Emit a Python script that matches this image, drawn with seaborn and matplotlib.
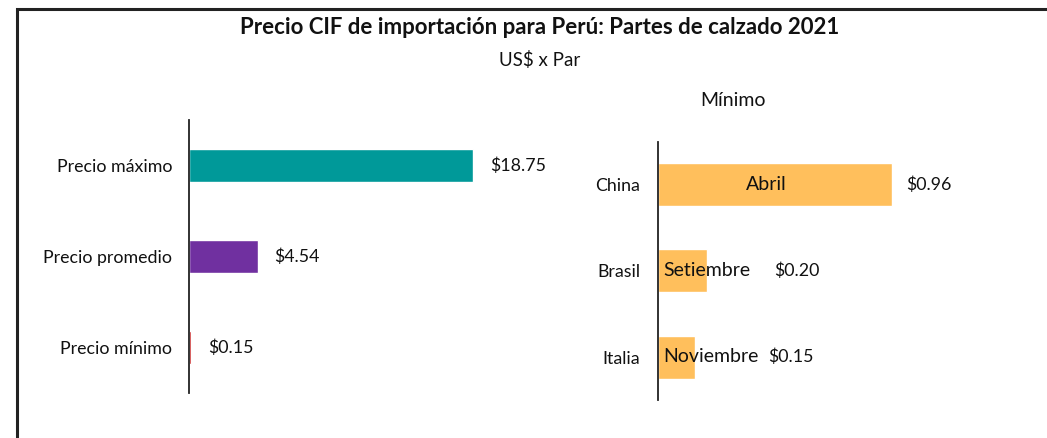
import matplotlib
matplotlib.use("Agg")
import matplotlib.pyplot as plt
import seaborn as sns
import pandas as pd
from matplotlib.patches import Rectangle

# Data
left_cats = ["Precio máximo", "Precio promedio", "Precio mínimo"]
left_vals = [18.75, 4.54, 0.15]
left_labels = ["$18.75", "$4.54", "$0.15"]
left_colors = ["#009999", "#7030A0", "#C00000"]

right_cats = ["China", "Brasil", "Italia"]
right_vals = [0.96, 0.20, 0.15]
right_labels = ["$0.96", "$0.20", "$0.15"]
right_months = ["Abril", "Setiembre", "Noviembre"]
right_color = "#FFBF5C"

title = "Precio CIF de importación para Perú: Partes de calzado 2021"
subtitle = "US$ x Par"
right_title = "Mínimo"

sns.set_theme(style="white")
plt.rcParams['font.family'] = ['Lato', 'DejaVu Sans']

fig = plt.figure(figsize=(10.47, 4.38), dpi=100)
fig.patch.set_facecolor("white")

FS = 12.8
TXT = "#111111"

# Left chart
axL = fig.add_axes([189/1047, 1-393/438, 326/1047, (393-120)/438])
dfL = pd.DataFrame({"cat": left_cats, "val": left_vals})
sns.barplot(data=dfL, x="val", y="cat", hue="cat", palette=left_colors,
            orient="h", width=0.36, legend=False, ax=axL, saturation=1)
axL.set_xlim(0, 21.5)
axL.set_ylim(2.5, -0.5)
axL.set_xlabel(""); axL.set_ylabel("")
axL.set_xticks([])
for s in ["top", "right", "bottom"]:
    axL.spines[s].set_visible(False)
axL.spines["left"].set_color("#222222")
axL.spines["left"].set_linewidth(1.3)
axL.tick_params(axis="y", length=0, pad=12, labelsize=FS, labelcolor=TXT)
for i, (v, lab) in enumerate(zip(left_vals, left_labels)):
    axL.annotate(lab, xy=(v, i), xytext=(12, 0), textcoords="offset points",
                 va="center", ha="left", fontsize=FS, color=TXT)

# Right chart
axR = fig.add_axes([658/1047, 1-400/438, 330/1047, (400-142)/438])
dfR = pd.DataFrame({"cat": right_cats, "val": right_vals})
sns.barplot(data=dfR, x="val", y="cat", color=right_color,
            orient="h", width=0.5, ax=axR, saturation=1)
axR.set_xlim(0, 330/244)
axR.set_ylim(2.5, -0.5)
axR.set_xlabel(""); axR.set_ylabel("")
axR.set_xticks([])
for s in ["top", "right", "bottom"]:
    axR.spines[s].set_visible(False)
axR.spines["left"].set_color("#222222")
axR.spines["left"].set_linewidth(1.3)
axR.tick_params(axis="y", length=0, pad=13, labelsize=FS, labelcolor=TXT)

# month labels
MFS = 14
axR.text(right_vals[0] / 2 - 0.035, 0, right_months[0], ha="center", va="center", fontsize=MFS, color=TXT)
axR.text(0.02, 1, right_months[1], ha="left", va="center", fontsize=MFS, color=TXT)
axR.text(0.02, 2, right_months[2], ha="left", va="center", fontsize=MFS, color=TXT)
# value labels
val_x = [right_vals[0] + 0.057, 0.475, 0.45]
for i, (x, lab) in enumerate(zip(val_x, right_labels)):
    axR.text(x, i, lab, ha="left", va="center", fontsize=FS, color=TXT)

# Titles
fig.text(540/1047, 1-28/438, title, ha="center", va="center", fontsize=16,
         fontweight="bold", color=TXT)
fig.text(540/1047, 1-60/438, subtitle, ha="center", va="center", fontsize=13.5, color=TXT)
fig.text(733/1047, 1-100/438, right_title, ha="center", va="center", fontsize=14, color=TXT)

# Border
fig.patches.append(Rectangle((17/1047, -0.2), 1.5, 0.2 + (1 - 9/438), transform=fig.transFigure,
                             fill=False, edgecolor="#222222", linewidth=2.2, zorder=10))

fig.savefig("out.png", dpi=100, facecolor="white")
